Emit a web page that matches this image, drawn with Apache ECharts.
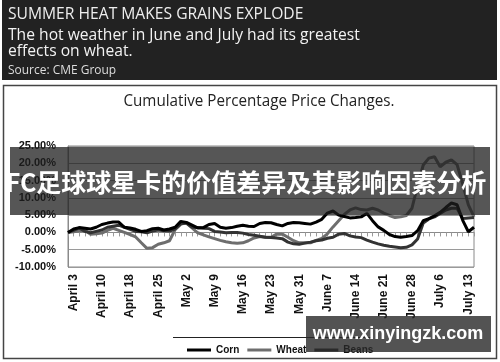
<!DOCTYPE html>
<html><head><meta charset="utf-8">
<script src="https://cdn.jsdelivr.net/npm/echarts@6/dist/echarts.min.js"></script>
<style>html,body{margin:0;padding:0;background:#fff}#c{width:500px;height:362px}</style>
</head><body><div id="c"></div>
<script>
const dates = ["Apr 2","April 3","Apr 4","Apr 5","Apr 6","Apr 9","April 10","Apr 11","Apr 12","Apr 13","Apr 16","April 18","Apr 19","Apr 20","Apr 23","Apr 24","April 25","Apr 26","Apr 27","Apr 30","May 1","May 2","May 3","May 4","May 7","May 8","May 9","May 10","May 11","May 14","May 15","May 16","May 17","May 18","May 21","May 22","May 23","May 24","May 25","May 29","May 30","May 31","Jun 1","Jun 4","Jun 5","Jun 6","June 7","Jun 8","Jun 11","Jun 12","Jun 13","June 14","Jun 15","Jun 18","Jun 19","Jun 20","June 21","Jun 22","Jun 25","Jun 26","Jun 27","June 28","Jun 29","Jul 2","Jul 3","Jul 5","July 6","Jul 9","Jul 10","Jul 11","Jul 12","July 13","Jul 16"];
const tickLabels = ["April 3","April 10","April 18","April 25","May 2","May 9","May 16","May 23","May 31","June 7","June 14","June 21","June 28","July 6","July 13"];
const seriesNames = ["Corn","Wheat","Beans"];
const corn = [0,1.0,1.4,1.2,1.0,1.5,2.3,2.7,3.0,3.0,1.5,1.3,0.9,0.3,0.5,1.1,1.2,0.7,1.0,1.5,3.2,2.9,2.1,1.3,1.4,2.3,2.6,1.5,1.2,1.4,1.8,2.1,1.8,1.7,2.6,2.9,2.8,2.3,1.9,2.6,2.9,2.8,2.6,2.4,3.0,3.8,5.6,6.2,5.0,4.6,4.2,4.3,4.5,5.5,3.4,1.6,0.6,-0.6,-1.2,-1.4,-1.2,-0.9,0.5,3.4,4.0,4.8,5.8,7.2,8.5,8.0,3.5,0.2,1.5];
const wheat = [0,0.2,0.5,0.6,-0.5,-0.4,-0.2,0.6,1.2,0.6,0.0,-0.6,-1.3,-3.0,-4.6,-4.4,-3.4,-3.0,-2.4,0.8,2.4,2.7,1.3,-0.1,-0.7,-1.3,-1.8,-2.3,-2.7,-3.0,-3.1,-3.0,-2.4,-1.6,-1.2,-1.4,-1.4,-0.5,-0.5,-1.4,-2.4,-3.0,-3.0,-3.0,-2.3,-1.7,-0.4,1.6,3.4,5.2,6.5,7.1,6.6,6.5,7.0,6.5,5.6,4.9,4.3,4.5,4.9,7.0,13.5,19.5,21.5,21.9,19.0,20.3,21.0,19.6,14.0,8.0,4.5];
const beans = [0,0.6,1.3,0.3,-0.1,0.3,0.7,1.5,1.8,2.1,1.5,0.9,0.3,0.2,-0.1,0.4,0.7,0.5,0.4,1.0,2.5,2.7,1.5,1.4,1.2,1.1,0.3,0.1,-0.1,0.0,0.0,-0.2,-0.6,-0.8,-1.1,-1.4,-1.5,-1.6,-1.8,-2.8,-3.3,-3.4,-3.1,-2.8,-2.4,-2.2,-1.7,-1.4,-0.5,-0.3,-1.0,-1.3,-1.5,-2.2,-2.8,-3.3,-3.7,-4.0,-4.2,-4.4,-4.3,-3.6,-1.9,2.7,3.9,4.5,5.5,6.5,7.0,7.0,4.0,4.2,4.3];
const headline = "SUMMER HEAT MAKES GRAINS EXPLODE";
const deck1 = "The hot weather in June and July had its greatest";
const deck2 = "effects on wheat.";
const source = "Source: CME Group";
const chartTitle = "Cumulative Percentage Price Changes.";
const bannerText = "FC足球球星卡的价值差异及其影响因素分析";
const watermark = "www.xinyingzk.com";

const axisFont = '"Liberation Sans", Arial, sans-serif';
const headFont = '"Open Sans", "Noto Sans", sans-serif';
const chart = echarts.init(document.getElementById('c'), null, {renderer: 'canvas'});
chart.setOption({
  animation: false,
  backgroundColor: '#fff',
  grid: {left: 68, right: 26, top: 146, bottom: 95, show: true, borderColor: '#8a8a8a', borderWidth: 1},
  xAxis: {
    type: 'category', data: dates, boundaryGap: false,
    axisLine: {show: true, lineStyle: {color: '#8a8a8a'}},
    axisTick: {show: true, interval: 0, length: 4, lineStyle: {color: '#9a9a9a'}},
    axisLabel: {interval: (i, v) => tickLabels.includes(v), rotate: 90, margin: 7,
      fontFamily: axisFont, fontWeight: 'bold', fontSize: 12, color: '#111'},
    splitLine: {show: false}
  },
  yAxis: {
    type: 'value', min: -10, max: 25, interval: 5,
    axisLine: {show: true, lineStyle: {color: '#8a8a8a'}},
    axisTick: {show: false},
    axisLabel: {formatter: v => v.toFixed(2) + '%', margin: 12,
      fontFamily: axisFont, fontWeight: 'bold', fontSize: 11, color: '#111'},
    splitLine: {show: true, lineStyle: {color: '#9a9a9a', width: 1}}
  },
  legend: {
    left: 182, top: 340, itemWidth: 24, itemHeight: 3, itemGap: 8, icon: 'rect',
    data: seriesNames,
    textStyle: {fontFamily: axisFont, fontWeight: 'bold', fontSize: 10, color: '#111'}
  },
  series: [
    {name: seriesNames[1], type: 'line', data: wheat, symbol: 'none', lineStyle: {color: '#6e6e6e', width: 3}, itemStyle: {color: '#6e6e6e'}, z: 2},
    {name: seriesNames[2], type: 'line', data: beans, symbol: 'none', lineStyle: {color: '#333', width: 3}, itemStyle: {color: '#333'}, z: 3},
    {name: seriesNames[0], type: 'line', data: corn, symbol: 'none', lineStyle: {color: '#000', width: 3}, itemStyle: {color: '#000'}, z: 4}
  ],
  graphic: [
    {type: 'rect', shape: {x: 2, y: 0, width: 495, height: 80}, style: {fill: '#222'}, z: 1},
    {type: 'text', x: 8, y: 14, scaleX: 0.92, z: 2, style: {text: headline, font: '17px ' + headFont, fill: '#eee', textVerticalAlign: 'middle'}},
    {type: 'text', x: 8, y: 35, scaleX: 0.92, z: 2, style: {text: deck1, font: '17px ' + headFont, fill: '#f2f2f2', textVerticalAlign: 'middle'}},
    {type: 'text', x: 8, y: 51, scaleX: 0.92, z: 2, style: {text: deck2, font: '17px ' + headFont, fill: '#f2f2f2', textVerticalAlign: 'middle'}},
    {type: 'text', x: 8, y: 70, scaleX: 0.92, z: 2, style: {text: source, font: '13px ' + headFont, fill: '#ddd', textVerticalAlign: 'middle'}},
    {type: 'rect', shape: {x: 3.5, y: 85.5, width: 493, height: 273}, style: {fill: 'none', stroke: '#444', lineWidth: 1.5}, z: 1},
    {type: 'text', x: 259, y: 101, scaleX: 0.95, z: 2, style: {text: chartTitle, font: '16px ' + headFont, fill: '#222', textAlign: 'center', textVerticalAlign: 'middle'}},
    {type: 'line', shape: {x1: 173, y1: 337.5, x2: 372, y2: 337.5}, style: {stroke: '#222', lineWidth: 1}, z: 2},
    {type: 'rect', shape: {x: 10, y: 147, width: 480, height: 68}, style: {fill: 'rgba(30,30,30,0.75)'}, z: 100},
    {type: 'text', x: 246, y: 182, z: 101, style: {text: bannerText, font: 'bold 25px "Noto Sans CJK SC", sans-serif', fill: '#fff', textAlign: 'center', textVerticalAlign: 'middle'}},
    {type: 'rect', shape: {x: 306, y: 316, width: 185, height: 36}, style: {fill: 'rgba(40,40,40,0.8)'}, z: 100},
    {type: 'text', x: 398, y: 334, z: 101, style: {text: watermark, font: 'bold 18px ' + axisFont, fill: '#fff', textAlign: 'center', textVerticalAlign: 'middle'}}
  ]
});
</script></body></html>
